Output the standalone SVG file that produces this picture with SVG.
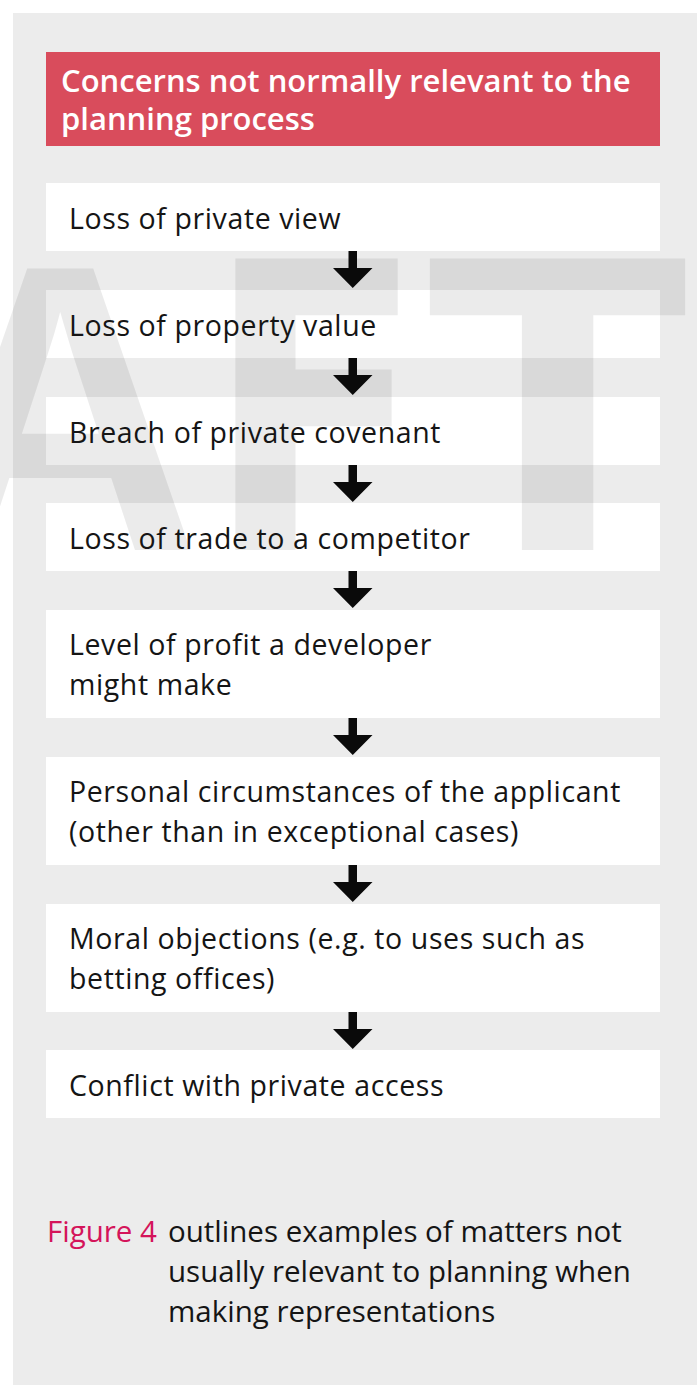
<svg xmlns="http://www.w3.org/2000/svg" xmlns:xlink="http://www.w3.org/1999/xlink" width="697" height="1385" viewBox="0 0 697 1385">
<style>
.box{fill:#ffffff}
.t{font-family:"Open Sans","Noto Sans","Liberation Sans",sans-serif;font-size:28.5px;letter-spacing:0.6px;fill:#151515}
.c{font-family:"Open Sans","Noto Sans","Liberation Sans",sans-serif;font-size:29.5px;fill:#151515}
.h{font-family:"Open Sans","Noto Sans","Liberation Sans",sans-serif;font-size:31px;font-weight:600;fill:#ffffff}
.fig{fill:#d4145a}
.wm{font-family:"DejaVu Sans","Liberation Sans",sans-serif;font-weight:bold;font-size:400px;fill:#000000;fill-opacity:0.08}
.wma{font-family:"Liberation Sans","DejaVu Sans",sans-serif;font-weight:bold;font-size:409px;fill:#000000;fill-opacity:0.08}
.arrow{fill:#0a0a0a}
</style>
<defs>
<path id="arr" d="M348.5 0 H357 V17 H372.5 L352.75 37 L333 17 H348.5 Z"/>
</defs>
<rect x="13" y="13" width="684" height="1372" fill="#ececec"/>
<g id="header">
<rect x="46" y="52" width="614" height="94" fill="#d94c5c"/>
<text class="h" x="61" y="92">Concerns not normally relevant to the</text>
<text class="h" x="61" y="130">planning process</text>
</g>
<g id="n1"><rect class="box" x="46" y="183" width="614" height="68"/></g>
<g id="n2"><rect class="box" x="46" y="290" width="614" height="68"/></g>
<g id="n3"><rect class="box" x="46" y="397" width="614" height="68"/></g>
<g id="n4"><rect class="box" x="46" y="503" width="614" height="68"/></g>
<g id="n5"><rect class="box" x="46" y="610" width="614" height="108"/></g>
<g id="n6"><rect class="box" x="46" y="757" width="614" height="108"/></g>
<g id="n7"><rect class="box" x="46" y="904" width="614" height="108"/></g>
<g id="n8"><rect class="box" x="46" y="1050" width="614" height="68"/></g>
<g id="watermark">
<text class="wma" transform="translate(-80 550) scale(0.95 1)">A</text>
<text class="wm" transform="translate(206 550) scale(0.8 1)">F</text>
<text class="wm" transform="translate(428 550) scale(0.95 1)">T</text>
</g>
<g id="labels">
<text class="t" x="69" y="229">Loss of private view</text>
<text class="t" x="69" y="336">Loss of property value</text>
<text class="t" x="69" y="443">Breach of private covenant</text>
<text class="t" x="69" y="549">Loss of trade to a competitor</text>
<text class="t" x="69" y="655">Level of profit a developer</text>
<text class="t" x="69" y="695">might make</text>
<text class="t" x="69" y="802">Personal circumstances of the applicant</text>
<text class="t" x="69" y="842">(other than in exceptional cases)</text>
<text class="t" x="69" y="949">Moral objections (e.g. to uses such as</text>
<text class="t" x="69" y="989">betting offices)</text>
<text class="t" x="69" y="1096">Conflict with private access</text>
</g>
<g id="connectors" class="arrow">
<use xlink:href="#arr" y="251"/>
<use xlink:href="#arr" y="358"/>
<use xlink:href="#arr" y="465"/>
<use xlink:href="#arr" y="571"/>
<use xlink:href="#arr" y="718"/>
<use xlink:href="#arr" y="865"/>
<use xlink:href="#arr" y="1012"/>
</g>
<g id="caption">
<text class="c fig" x="47" y="1242">Figure 4</text>
<text class="c" x="168" y="1242">outlines examples of matters not</text>
<text class="c" x="168" y="1282">usually relevant to planning when</text>
<text class="c" x="168" y="1322">making representations</text>
</g>
</svg>
